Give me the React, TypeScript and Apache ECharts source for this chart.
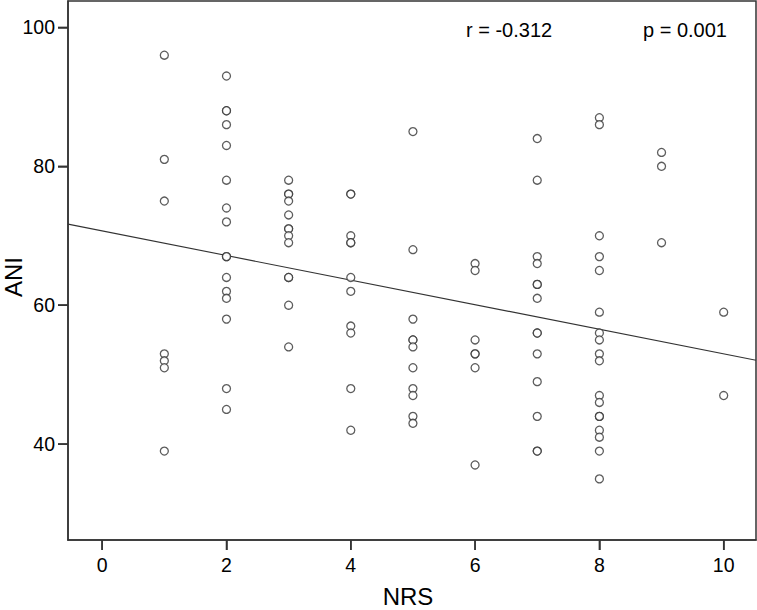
import React, { useEffect, useRef } from "react";
import * as echarts from "echarts";

const nrsValues = [1, 2, 3, 4, 5, 6, 7, 8, 9, 10];
const aniAtNrs1 = [96, 81, 75, 53, 52, 51, 39];
const aniAtNrs2 = [93, 88, 88, 86, 83, 78, 74, 72, 67, 67, 64, 62, 61, 58, 48, 45];
const aniAtNrs3 = [78, 76, 76, 75, 73, 71, 71, 70, 69, 64, 64, 60, 54];
const aniAtNrs4 = [76, 76, 70, 69, 69, 64, 62, 57, 56, 48, 42];
const aniAtNrs5 = [85, 68, 58, 55, 55, 54, 51, 48, 47, 44, 43];
const aniAtNrs6 = [66, 65, 55, 53, 53, 51, 37];
const aniAtNrs7 = [84, 78, 67, 66, 63, 63, 61, 56, 56, 53, 49, 44, 39, 39];
const aniAtNrs8 = [87, 86, 70, 67, 65, 59, 56, 55, 53, 52, 47, 46, 44, 44, 42, 41, 39, 35];
const aniAtNrs9 = [82, 80, 69];
const aniAtNrs10 = [59, 47];
const aniColumns = [
  aniAtNrs1, aniAtNrs2, aniAtNrs3, aniAtNrs4, aniAtNrs5,
  aniAtNrs6, aniAtNrs7, aniAtNrs8, aniAtNrs9, aniAtNrs10,
];

const xTickLabels = [0, 2, 4, 6, 8, 10];
const yTickLabels = [40, 60, 80, 100];
const xRange = [-0.55, 10.52];
const yRange = [26.2, 103.8];
const fitIntercept = 70.7;
const fitSlope = -1.77;
const rText = "r = -0.312";
const pText = "p = 0.001";

const W = 757;
const H = 610;
const GRID = { left: 68, right: 1, top: 1, bottom: 70 };

export default function App() {
  const ref = useRef<HTMLDivElement>(null);
  useEffect(() => {
    if (!ref.current) return;
    const chart = echarts.init(ref.current, null, { renderer: "svg" });
    const points: number[][] = [];
    nrsValues.forEach((x, i) => aniColumns[i].forEach((y) => points.push([x, y])));
    const fitLine = xRange.map((x) => [x, fitIntercept + fitSlope * x]);
    const font = "'Liberation Sans', Arial, Helvetica, sans-serif";
    const axisColor = "#333";
    const tickLen = 10;
    const plotW = W - GRID.left - GRID.right;
    const plotH = H - GRID.top - GRID.bottom;
    const toPxX = (v: number) => GRID.left + ((v - xRange[0]) / (xRange[1] - xRange[0])) * plotW;
    const toPxY = (v: number) => GRID.top + plotH - ((v - yRange[0]) / (yRange[1] - yRange[0])) * plotH;
    const axisBottom = GRID.top + plotH;
    const tickRects: any[] = [
      ...xTickLabels.map((v) => ({
        type: "rect", z: 100,
        shape: { x: toPxX(v) - 0.75, y: axisBottom, width: 1.5, height: tickLen },
        style: { fill: axisColor },
      })),
      ...yTickLabels.map((v) => ({
        type: "rect", z: 100,
        shape: { x: GRID.left - tickLen, y: toPxY(v) - 0.75, width: tickLen, height: 1.5 },
        style: { fill: axisColor },
      })),
    ];
    chart.setOption({
      animation: false,
      backgroundColor: "#fff",
      grid: {
        ...GRID,
        show: true, borderColor: axisColor, borderWidth: 1.5,
        backgroundColor: "transparent",
      },
      xAxis: {
        type: "value",
        min: xRange[0], max: xRange[1],
        splitLine: { show: false },
        axisLine: { show: true, onZero: false, lineStyle: { color: axisColor, width: 1.5 } },
        axisTick: { show: true, customValues: xTickLabels, length: tickLen, lineStyle: { color: axisColor, width: 1.5 } },
        axisLabel: { customValues: xTickLabels, fontFamily: font, fontSize: 19.5, color: "#000", margin: 15 },
      },
      yAxis: {
        type: "value",
        min: yRange[0], max: yRange[1],
        splitLine: { show: false },
        axisLine: { show: true, onZero: false, lineStyle: { color: axisColor, width: 1.5 } },
        axisTick: { show: true, customValues: yTickLabels, length: tickLen, lineStyle: { color: axisColor, width: 1.5 } },
        axisLabel: { customValues: yTickLabels, fontFamily: font, fontSize: 19.5, color: "#000", margin: 13 },
      },
      graphic: [
        { type: "text", left: 466, top: 20, style: { text: rText, font: `20px ${font}`, fill: "#000" } },
        { type: "text", left: 643, top: 20, style: { text: pText, font: `20px ${font}`, fill: "#000" } },
        { type: "text", x: 408, y: 596, style: { text: "NRS", font: `24px ${font}`, fill: "#000", align: "center", verticalAlign: "middle" } },
        { type: "text", x: 13, y: 277, rotation: Math.PI / 2, style: { text: "ANI", font: `24px ${font}`, fill: "#000", align: "center", verticalAlign: "middle" } },
        ...tickRects,
      ],
      series: [
        {
          type: "scatter",
          data: points,
          symbol: "circle",
          symbolSize: 8,
          itemStyle: { color: "#fff", borderColor: "#333", borderWidth: 1.3 },
          z: 3,
        },
        {
          type: "line",
          data: fitLine,
          symbol: "none",
          lineStyle: { color: "#333", width: 1.1 },
          z: 2,
        },
      ],
    });
    return () => chart.dispose();
  }, []);
  return <div ref={ref} style={{ position: "fixed", left: 0, top: 0, width: W, height: H }} />;
}
